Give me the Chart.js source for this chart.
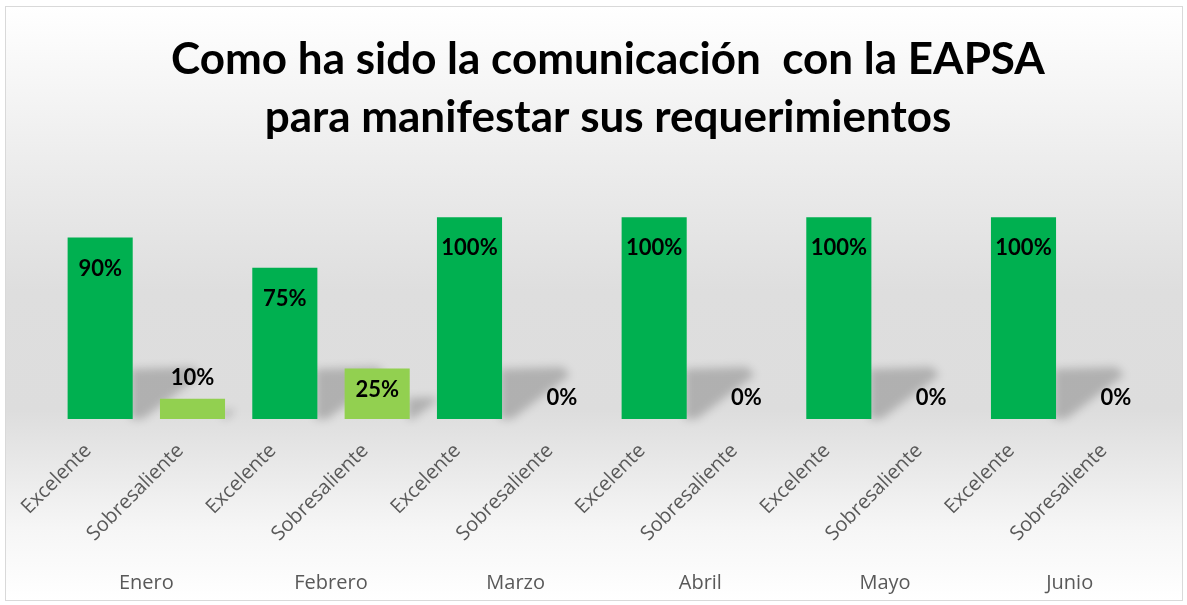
<!DOCTYPE html>
<html>
<head>
  <meta charset="utf-8">
  <title>Comunicación con la EAPSA</title>
  <script src="https://cdn.jsdelivr.net/npm/chart.js@4.4.0/dist/chart.umd.min.js"></script>
  <style>
    html, body {
      margin: 0;
      padding: 0;
      background: #fff;
    }
    #wrap {
      position: absolute;
      left: 5px;
      top: 6px;
      width: 1176px;
      height: 593px;
      border: 1px solid #d9d9d9;
      background: linear-gradient(to bottom, #ffffff 0%, #eeeeee 24%, #dedede 48%, #dddddd 68%, #f6f6f6 88%, #ffffff 100%);
    }
  </style>
</head>
<body>
  <div id="wrap">
    <canvas id="chart" width="1176" height="593"></canvas>
  </div>
  <script>
    const titleLines = ['Como ha sido la comunicación  con la EAPSA', 'para manifestar sus requerimientos'];
    const months = ['Enero', 'Febrero', 'Marzo', 'Abril', 'Mayo', 'Junio'];
    const levels = ['Excelente', 'Sobresaliente'];
    const excelente = [90, 75, 100, 100, 100, 100];
    const sobresaliente = [10, 25, 0, 0, 0, 0];

    const colExc = '#00B050';
    const colSob = '#92D050';

    // interleave both levels per month
    const labels = [];
    const values = [];
    const colors = [];
    months.forEach((m, i) => {
      labels.push(levels[0]); values.push(excelente[i]); colors.push(colExc);
      labels.push(levels[1]); values.push(sobresaliente[i]); colors.push(colSob);
    });

    const shadows = {
      id: 'shadows',
      beforeDatasetsDraw(chart) {
        const ctx = chart.ctx;
        const base = chart.scales.y.getPixelForValue(0);
        const meta = chart.getDatasetMeta(0);
        ctx.save();
        ctx.filter = 'blur(4px)';
        ctx.fillStyle = 'rgba(0,0,0,0.2)';
        meta.data.forEach(bar => {
          const h = base - bar.y;
          if (h <= 0) return;
          const k = Math.min(1, h / 120);
          const r = bar.x + bar.width / 2 - 2;
          ctx.beginPath();
          ctx.moveTo(r, base);
          ctx.lineTo(r, base - 50 * k);
          ctx.lineTo(r + 62 * k, base - 52 * k);
          ctx.lineTo(r + 70 * k, base - 44 * k);
          ctx.lineTo(r + 12 * k, base);
          ctx.closePath();
          ctx.fill();
        });
        ctx.restore();
      }
    };

    const valueLabels = {
      id: 'valueLabels',
      afterDatasetsDraw(chart) {
        const ctx = chart.ctx;
        const base = chart.scales.y.getPixelForValue(0);
        const meta = chart.getDatasetMeta(0);
        ctx.save();
        ctx.font = 'bold 22px Lato';
        ctx.fillStyle = '#000';
        ctx.textAlign = 'center';
        ctx.textBaseline = 'middle';
        meta.data.forEach((bar, i) => {
          const v = chart.data.datasets[0].data[i];
          let y;
          if (i % 2 === 0) y = bar.y + 31;
          else y = (base - bar.y) < 30 ? bar.y - 21 : bar.y + 21;
          ctx.fillText(v + '%', bar.x, y);
        });
        ctx.restore();
      }
    };

    new Chart(document.getElementById('chart').getContext('2d'), {
      type: 'bar',
      data: {
        labels: labels,
        datasets: [{
          data: values,
          backgroundColor: colors,
          categoryPercentage: 1,
          barPercentage: 0.705
        }]
      },
      options: {
        responsive: false,
        animation: false,
        layout: { padding: { left: 48, right: 20, top: 0, bottom: 2 } },
        plugins: {
          legend: { display: false },
          tooltip: { enabled: false },
          title: {
            display: true,
            text: titleLines,
            color: '#000',
            font: { family: 'Lato', size: 44, weight: 'bold', lineHeight: 1.32 },
            padding: { top: 24, bottom: 50 }
          }
        },
        scales: {
          x: {
            grid: { display: false },
            border: { display: false },
            ticks: {
              color: '#595959',
              font: { family: 'Open Sans', size: 20 },
              minRotation: 45,
              maxRotation: 45,
              autoSkip: false,
              labelOffset: -12,
              padding: 12
            },
            afterFit(scale) { scale.height = 135; }
          },
          x2: {
            type: 'category',
            labels: months,
            position: 'bottom',
            offset: true,
            grid: { display: false, drawTicks: false },
            border: { display: false },
            ticks: {
              color: '#595959',
              font: { family: 'Open Sans', size: 20 },
              padding: 17
            },
            afterFit(scale) { scale.height = 44; }
          },
          y: {
            display: false,
            min: 0,
            max: 110
          }
        }
      },
      plugins: [shadows, valueLabels]
    });
  </script>
</body>
</html>
